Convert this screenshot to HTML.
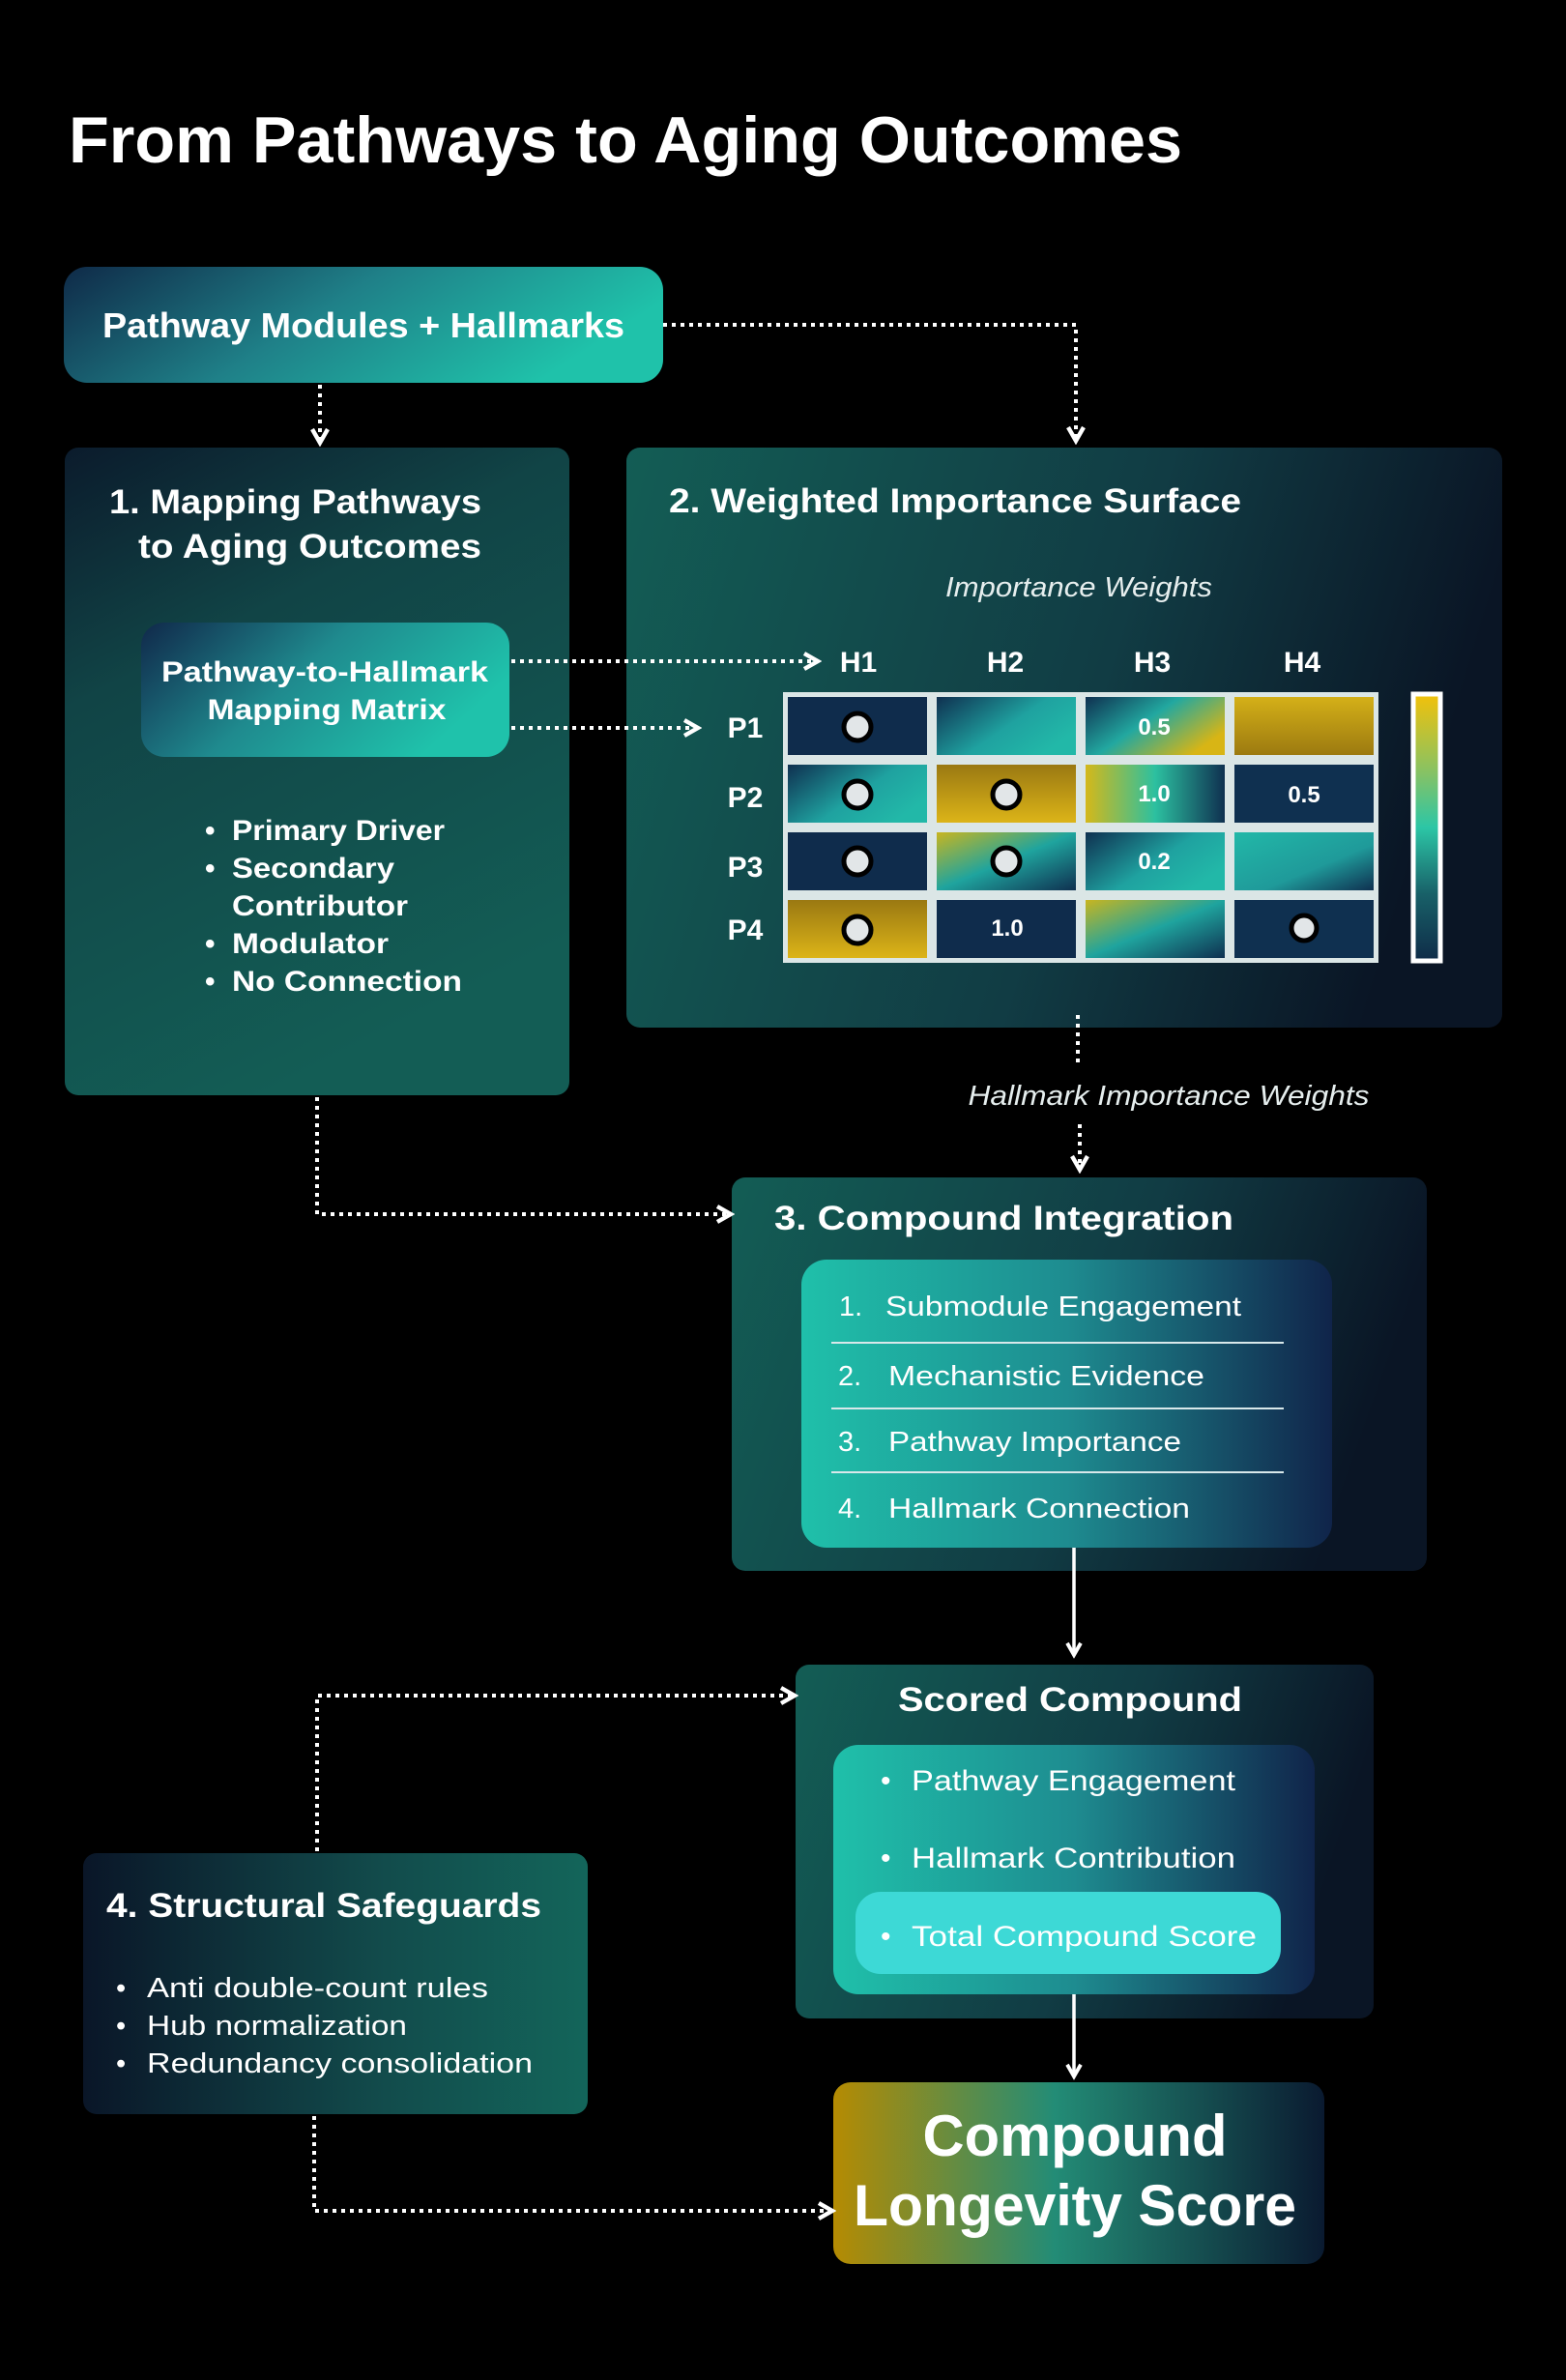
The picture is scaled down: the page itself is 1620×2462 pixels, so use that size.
<!DOCTYPE html>
<html><head><meta charset="utf-8"><style>
html,body{margin:0;padding:0;background:#000;}
svg{display:block;}
text{font-family:"Liberation Sans",sans-serif;fill:#fff;}
</style></head><body>
<svg width="1620" height="2462" viewBox="0 0 1620 2462" xmlns="http://www.w3.org/2000/svg">
<defs>
<linearGradient id="gA" x1="0" y1="0" x2="1" y2="0.3"><stop offset="0" stop-color="#0f2a48"/><stop offset="0.5" stop-color="#1f8088"/><stop offset="1" stop-color="#1fc2aa"/></linearGradient>
<linearGradient id="g1" x1="0" y1="0" x2="0.4" y2="1"><stop offset="0" stop-color="#0b1b2c"/><stop offset="0.35" stop-color="#114446"/><stop offset="1" stop-color="#135d55"/></linearGradient>
<linearGradient id="g2" x1="0" y1="0" x2="1" y2="0.2"><stop offset="0" stop-color="#135d55"/><stop offset="0.6" stop-color="#113c44"/><stop offset="1" stop-color="#0a1525"/></linearGradient>
<linearGradient id="gM" x1="0" y1="0" x2="1" y2="0.4"><stop offset="0" stop-color="#10284a"/><stop offset="0.5" stop-color="#1f8a8e"/><stop offset="1" stop-color="#1fc2ab"/></linearGradient>
<linearGradient id="gIn" x1="0" y1="0" x2="1" y2="0"><stop offset="0" stop-color="#1fc0aa"/><stop offset="0.5" stop-color="#1e8c90"/><stop offset="1" stop-color="#10244a"/></linearGradient>
<linearGradient id="g4" x1="0" y1="0" x2="1" y2="0"><stop offset="0" stop-color="#0a1628"/><stop offset="0.6" stop-color="#124c4c"/><stop offset="1" stop-color="#13655a"/></linearGradient>
<linearGradient id="gF" x1="0" y1="0" x2="1" y2="0"><stop offset="0" stop-color="#b58b02"/><stop offset="0.45" stop-color="#238c76"/><stop offset="1" stop-color="#0a1a30"/></linearGradient>
<linearGradient id="gBar" x1="0" y1="0" x2="0" y2="1"><stop offset="0" stop-color="#f2c10a"/><stop offset="0.3" stop-color="#84c266"/><stop offset="0.5" stop-color="#2cc6a6"/><stop offset="0.75" stop-color="#186068"/><stop offset="1" stop-color="#0f2c48"/></linearGradient>
<linearGradient id="cTeal" x1="0" y1="0" x2="1" y2="0.6"><stop offset="0" stop-color="#0f3050"/><stop offset="0.6" stop-color="#1fa2a0"/><stop offset="1" stop-color="#22b8a8"/></linearGradient>
<linearGradient id="cNTY" x1="0" y1="0" x2="1" y2="0.6"><stop offset="0" stop-color="#0f3050"/><stop offset="0.5" stop-color="#22a8a0"/><stop offset="1" stop-color="#d8b515"/></linearGradient>
<linearGradient id="cGold" x1="0" y1="0" x2="0" y2="1"><stop offset="0" stop-color="#d4b018"/><stop offset="1" stop-color="#9c7a10"/></linearGradient>
<linearGradient id="cGold2" x1="0" y1="0" x2="0" y2="1"><stop offset="0" stop-color="#9a7812"/><stop offset="1" stop-color="#dcb418"/></linearGradient>
<linearGradient id="cYTN" x1="0" y1="0" x2="1" y2="0"><stop offset="0" stop-color="#d4b81a"/><stop offset="0.5" stop-color="#2cc0a0"/><stop offset="1" stop-color="#0f3050"/></linearGradient>
<linearGradient id="cYTNd" x1="0" y1="0" x2="1" y2="1"><stop offset="0" stop-color="#c8b520"/><stop offset="0.5" stop-color="#1fa49e"/><stop offset="1" stop-color="#0f3050"/></linearGradient>
<linearGradient id="cTN" x1="0" y1="0" x2="1" y2="1"><stop offset="0" stop-color="#22b8a8"/><stop offset="0.6" stop-color="#1f9a9a"/><stop offset="1" stop-color="#0f3050"/></linearGradient>
<marker id="ah" viewBox="0 0 10 10" refX="8" refY="5" markerWidth="5" markerHeight="5" orient="auto"><path d="M1 1 L8 5 L1 9" fill="none" stroke="#fff" stroke-width="2.2"/></marker>
</defs>

<text x="71" y="168" font-size="68" font-weight="bold" textLength="1152" lengthAdjust="spacingAndGlyphs">From Pathways to Aging Outcomes</text>

<!-- Box A -->
<rect x="66" y="276" width="620" height="120" rx="24" fill="url(#gA)"/>
<text x="376" y="349" font-size="36" font-weight="bold" text-anchor="middle" textLength="540" lengthAdjust="spacingAndGlyphs">Pathway Modules + Hallmarks</text>

<!-- Box 1 -->
<rect x="67" y="463" width="522" height="670" rx="14" fill="url(#g1)"/>
<text x="113" y="531" font-size="35" font-weight="bold" textLength="385" lengthAdjust="spacingAndGlyphs">1. Mapping Pathways</text>
<text x="143" y="577" font-size="35" font-weight="bold" textLength="355" lengthAdjust="spacingAndGlyphs">to Aging Outcomes</text>
<rect x="146" y="644" width="381" height="139" rx="24" fill="url(#gM)"/>
<text x="336" y="705" font-size="30" font-weight="bold" text-anchor="middle" textLength="338" lengthAdjust="spacingAndGlyphs">Pathway-to-Hallmark</text>
<text x="338" y="744" font-size="30" font-weight="bold" text-anchor="middle" textLength="247" lengthAdjust="spacingAndGlyphs">Mapping Matrix</text>
<g font-size="30" font-weight="bold">
<text x="212" y="869">•</text><text x="240" y="869" textLength="220" lengthAdjust="spacingAndGlyphs">Primary Driver</text>
<text x="212" y="908">•</text><text x="240" y="908" textLength="168" lengthAdjust="spacingAndGlyphs">Secondary</text>
<text x="240" y="947" textLength="182" lengthAdjust="spacingAndGlyphs">Contributor</text>
<text x="212" y="986">•</text><text x="240" y="986" textLength="162" lengthAdjust="spacingAndGlyphs">Modulator</text>
<text x="212" y="1025">•</text><text x="240" y="1025" textLength="238" lengthAdjust="spacingAndGlyphs">No Connection</text>
</g>

<!-- Box 2 -->
<rect x="648" y="463" width="906" height="600" rx="14" fill="url(#g2)"/>
<text x="692" y="530" font-size="35" font-weight="bold" textLength="592" lengthAdjust="spacingAndGlyphs">2. Weighted Importance Surface</text>
<text x="1116" y="617" font-size="29" font-style="italic" text-anchor="middle" textLength="276" lengthAdjust="spacingAndGlyphs" style="fill:#e6eeee">Importance Weights</text>
<g font-size="30" font-weight="bold" text-anchor="middle">
<text x="888" y="695">H1</text><text x="1040" y="695">H2</text><text x="1192" y="695">H3</text><text x="1347" y="695">H4</text>
<text x="771" y="763">P1</text><text x="771" y="835">P2</text><text x="771" y="907">P3</text><text x="771" y="972">P4</text>
</g>
<rect x="810" y="716" width="616" height="280" fill="#dbe6e6"/>
<g>
<rect x="815" y="721" width="144" height="60" fill="#0f2c4c"/>
<rect x="969" y="721" width="144" height="60" fill="url(#cTeal)"/>
<rect x="1123" y="721" width="144" height="60" fill="url(#cNTY)"/>
<rect x="1277" y="721" width="144" height="60" fill="url(#cGold)"/>
<rect x="815" y="791" width="144" height="60" fill="url(#cTeal)"/>
<rect x="969" y="791" width="144" height="60" fill="url(#cGold2)"/>
<rect x="1123" y="791" width="144" height="60" fill="url(#cYTN)"/>
<rect x="1277" y="791" width="144" height="60" fill="#0f3050"/>
<rect x="815" y="861" width="144" height="60" fill="#0f2c4c"/>
<rect x="969" y="861" width="144" height="60" fill="url(#cYTNd)"/>
<rect x="1123" y="861" width="144" height="60" fill="url(#cTeal)"/>
<rect x="1277" y="861" width="144" height="60" fill="url(#cTN)"/>
<rect x="815" y="931" width="144" height="60" fill="url(#cGold2)"/>
<rect x="969" y="931" width="144" height="60" fill="#0f2c4c"/>
<rect x="1123" y="931" width="144" height="60" fill="url(#cYTNd)"/>
<rect x="1277" y="931" width="144" height="60" fill="#0f3050"/>
</g>
<g fill="#e2e6e8" stroke="#000" stroke-width="5">
<circle cx="887" cy="752" r="14"/><circle cx="887" cy="822" r="14"/><circle cx="1041" cy="822" r="14"/>
<circle cx="887" cy="891" r="14"/><circle cx="1041" cy="891" r="14"/><circle cx="887" cy="962" r="14"/>
<circle cx="1349" cy="960" r="13"/>
</g>
<g font-size="24" font-weight="bold" text-anchor="middle">
<text x="1194" y="760">0.5</text><text x="1194" y="829">1.0</text><text x="1349" y="830">0.5</text>
<text x="1194" y="899">0.2</text><text x="1042" y="968">1.0</text>
</g>
<rect x="1462" y="718" width="28" height="276" fill="url(#gBar)" stroke="#fff" stroke-width="5"/>

<text x="1209" y="1143" font-size="29" font-style="italic" text-anchor="middle" textLength="415" lengthAdjust="spacingAndGlyphs" style="fill:#e6eeee">Hallmark Importance Weights</text>

<!-- Box 3 -->
<rect x="757" y="1218" width="719" height="407" rx="14" fill="url(#g2)"/>
<text x="801" y="1272" font-size="35" font-weight="bold" textLength="475" lengthAdjust="spacingAndGlyphs">3. Compound Integration</text>
<rect x="829" y="1303" width="549" height="298" rx="26" fill="url(#gIn)"/>
<g stroke="#d8e8ea" stroke-width="2"><path d="M860 1389 H1328 M860 1457 H1328 M860 1523 H1328"/></g>
<g font-size="29">
<text x="868" y="1361">1.</text><text x="916" y="1361" textLength="368" lengthAdjust="spacingAndGlyphs">Submodule Engagement</text>
<text x="867" y="1433">2.</text><text x="919" y="1433" textLength="327" lengthAdjust="spacingAndGlyphs">Mechanistic Evidence</text>
<text x="867" y="1501">3.</text><text x="919" y="1501" textLength="303" lengthAdjust="spacingAndGlyphs">Pathway Importance</text>
<text x="867" y="1570">4.</text><text x="919" y="1570" textLength="312" lengthAdjust="spacingAndGlyphs">Hallmark Connection</text>
</g>

<!-- Scored -->
<rect x="823" y="1722" width="598" height="366" rx="14" fill="url(#g2)"/>
<text x="1107" y="1770" font-size="35" font-weight="bold" text-anchor="middle" textLength="356" lengthAdjust="spacingAndGlyphs">Scored Compound</text>
<rect x="862" y="1805" width="498" height="258" rx="26" fill="url(#gIn)"/>
<rect x="885" y="1957" width="440" height="85" rx="26" fill="#3dd9d6"/>
<g font-size="30">
<text x="911" y="1852">•</text><text x="943" y="1852" textLength="335" lengthAdjust="spacingAndGlyphs">Pathway Engagement</text>
<text x="911" y="1932">•</text><text x="943" y="1932" textLength="335" lengthAdjust="spacingAndGlyphs">Hallmark Contribution</text>
<text x="911" y="2013">•</text><text x="943" y="2013" textLength="357" lengthAdjust="spacingAndGlyphs">Total Compound Score</text>
</g>

<!-- Final -->
<rect x="862" y="2154" width="508" height="188" rx="18" fill="url(#gF)"/>
<text x="1112" y="2230" font-size="60" font-weight="bold" text-anchor="middle" textLength="315" lengthAdjust="spacingAndGlyphs">Compound</text>
<text x="1112" y="2302" font-size="60" font-weight="bold" text-anchor="middle" textLength="458" lengthAdjust="spacingAndGlyphs">Longevity Score</text>

<!-- Box 4 -->
<rect x="86" y="1917" width="522" height="270" rx="14" fill="url(#g4)"/>
<text x="110" y="1983" font-size="35" font-weight="bold" textLength="450" lengthAdjust="spacingAndGlyphs">4. Structural Safeguards</text>
<g font-size="29">
<text x="120" y="2066">•</text><text x="152" y="2066" textLength="353" lengthAdjust="spacingAndGlyphs">Anti double-count rules</text>
<text x="120" y="2105">•</text><text x="152" y="2105" textLength="269" lengthAdjust="spacingAndGlyphs">Hub normalization</text>
<text x="120" y="2144">•</text><text x="152" y="2144" textLength="399" lengthAdjust="spacingAndGlyphs">Redundancy consolidation</text>
</g>

<!-- connectors (on top) -->
<g stroke="#fff" stroke-width="4" stroke-dasharray="4 5" fill="none">
<path d="M686 336 H1113 V456" marker-end="url(#ah)"/>
<path d="M331 398 V458" marker-end="url(#ah)"/>
<path d="M529 684 H846" marker-end="url(#ah)"/>
<path d="M529 753 H722" marker-end="url(#ah)"/>
<path d="M1115 1050 V1100"/>
<path d="M1117 1163 V1210" marker-end="url(#ah)"/>
<path d="M328 1135 V1256 H756" marker-end="url(#ah)"/>
<path d="M328 1915 V1754 H822" marker-end="url(#ah)"/>
<path d="M325 2189 V2287 H861" marker-end="url(#ah)"/>
</g>
<path d="M1111 1601 V1712" stroke="#fff" stroke-width="3.5" fill="none" marker-end="url(#ah)"/>
<path d="M1111 2063 V2148" stroke="#fff" stroke-width="3.5" fill="none" marker-end="url(#ah)"/>
</svg>
</body></html>
